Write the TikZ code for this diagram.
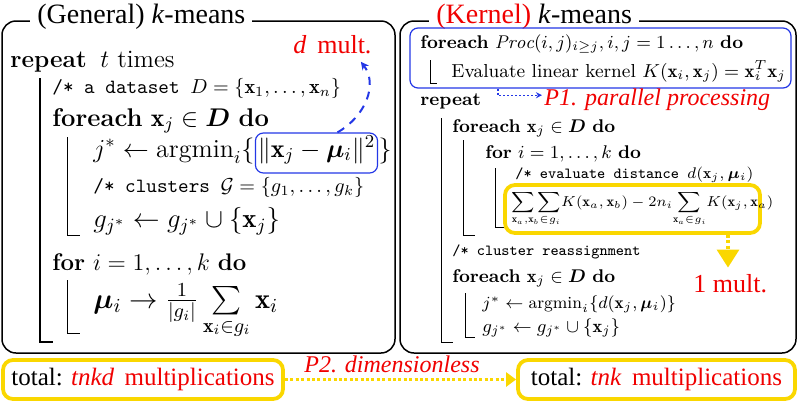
\RequirePackage{fix-cm}
\documentclass[tikz,border=0pt]{standalone}
\usepackage{amsmath,amssymb,bm}
\usepackage{fontspec}
\newfontfamily\tnr{Liberation Serif}
\usetikzlibrary{arrows.meta,calc}
\definecolor{bluec}{RGB}{35,55,230}
\definecolor{yelc}{RGB}{250,215,0}
\definecolor{redc}{RGB}{240,0,0}
\newcommand{\fsz}[1]{\fontsize{#1}{#1}\selectfont}
\tikzset{
  frame/.style={draw=black,line width=0.75pt,rounded corners=7pt},
  title/.style={anchor=base west,inner xsep=3.5pt,inner ysep=1pt,fill=white,font=\tnr\fsz{14}},
  algL/.style={anchor=base west,inner sep=0pt,font=\fsz{12}},
  algR/.style={anchor=base west,inner sep=0pt,font=\fsz{9.2}},
  cmtL/.style={anchor=base west,inner sep=0pt,font=\ttfamily\fsz{10.1}},
  cmtR/.style={anchor=base west,inner sep=0pt,font=\ttfamily\fsz{7.7}},
  lbl/.style={inner sep=0pt,text=redc,font=\tnr\fsz{13}},
  blk/.style={line width=0.5pt},
  blkthick/.style={line width=1.1pt},
  bbox/.style={draw=bluec,line width=0.6pt,rounded corners=4pt,inner sep=0pt},
  ybox/.style={draw=yelc,line width=1.9pt,rounded corners=5pt,inner sep=0pt},
  ydot/.style={draw=yelc,line width=1.6pt,dash pattern=on 1.5pt off 1.2pt,-{Triangle[length=5pt,width=7pt]}},
  ydotbig/.style={draw=yelc,line width=1.6pt,dash pattern=on 1.5pt off 1.2pt,-{Triangle[length=9pt,width=11pt]}},
  bdash/.style={draw=bluec,line width=1pt,dash pattern=on 4pt off 3.5pt,-{Stealth[length=4pt,width=4pt]}},
  bdot/.style={draw=bluec,line width=0.7pt,dash pattern=on 1pt off 1pt,-{Stealth[length=3pt,width=3pt]}},
}
\begin{document}
\begin{tikzpicture}[x=0.5pt,y=-0.5pt]
\useasboundingbox (0,0) rectangle (798,402);
% ---------- frames ----------
\draw[frame] (2,21) rectangle (395,353);
\draw[frame] (400,21) rectangle (796,353);
\node[title] (tl) at (30,23) {(General) \textit{k}-means};
\node[title] (tr) at (429,23) {\textcolor{redc}{(Kernel)} \textit{k}-means};
% ---------- left algorithm ----------
\node[algL,font=\fsz{12.2}] (l1) at (10,67) {\textbf{repeat}};
\node[algL,font=\fsz{12.5}] (l1b) at (100,67) {$t$ times};
\node[lbl,anchor=base west] (dmult) at (293,53) {\textit{d}\, mult.};
\node[cmtL] (l2) at (52,93) {/* a dataset $D=\{\mathbf{x}_1,\ldots,\mathbf{x}_n\}$};
\node[algL,font=\fsz{12.8}] (l3) at (52,126) {\textbf{foreach} $\mathbf{x}_j\in\bm{D}$ \textbf{do}};
\node[algL,font=\fsz{13}] (l4a) at (93,157) {$j^*\leftarrow\mathrm{argmin}_i\{$};
\node[bbox,anchor=base west,inner xsep=1.2pt,text height=12pt,text depth=8pt,font=\fsz{13}] (normbox) at (l4a.base east) {$\|\mathbf{x}_j-\bm{\mu}_i\|^2$};
\node[algL,font=\fsz{13}] (l4b) at (normbox.base east) {$\}$};
\node[cmtL] (l5) at (93,192) {/* clusters $\mathcal{G}=\{g_1,\ldots,g_k\}$};
\node[algL,font=\fsz{13.4}] (l6) at (93,227) {$g_{j^*}\leftarrow g_{j^*}\cup\{\mathbf{x}_j\}$};
\node[algL] (l7) at (52,270) {\textbf{for} $i=1,\ldots,k$ \textbf{do}};
\node[algL,font=\fsz{14.2}] (l8) at (93,308) {$\bm{\mu}_i\rightarrow\tfrac{1}{|g_i|}\sum\limits_{\mathbf{x}_i\in g_i}\mathbf{x}_i$};
\draw[blkthick] (40,78) -- (40,342) -- (53,342);
\draw[blk] (67,137) -- (67,235) -- (80,235);
\draw[blk] (67,280) -- (67,333) -- (80,333);
\draw[bdash] ($(normbox.north west)!0.67!(normbox.north east)$) .. controls (366,116) and (378,84) .. ($(dmult.south east)+(-11,8)$);
% ---------- right algorithm ----------
\node[bbox,minimum width=190.5pt,minimum height=30pt] (kbox) at (600.5,58) {};
\node[algR] (r1) at (420,48) {\textbf{foreach} $\mathit{Proc}(i,j)_{i\geq j},i,j=1\ldots,n$ \textbf{do}};
\draw[blk] (430,60) -- (430,83) -- (437,83);
\node[algR,font=\fsz{9.4}] (r2) at (451,77) {Evaluate linear kernel $K(\mathbf{x}_i,\mathbf{x}_j)=\mathbf{x}_i^T\mathbf{x}_j$};
\node[algR] (r3) at (420,105) {\textbf{repeat}};
\node[lbl,anchor=base west,font=\tnr\itshape\fsz{12}] (p1) at (544,105) {P1. parallel processing};
\draw[bdot] (kbox.south -| 498,0) |- ($(p1.west)+(-2,-4)$);
\draw[blk] (441,118) -- (441,342) -- (453,342);
\node[algR] (r4) at (452,132) {\textbf{foreach} $\mathbf{x}_j\in\bm{D}$ \textbf{do}};
\draw[blk] (463,140) -- (463,235) -- (475,235);
\node[algR] (r5) at (485,158) {\textbf{for} $i=1,\ldots,k$ \textbf{do}};
\draw[blk] (495,168) -- (495,227) -- (505,227);
\node[cmtR] (r6) at (515,178) {/* evaluate distance $d(\mathbf{x}_j,\bm{\mu}_i)$};
\node[ybox,minimum width=127.5pt,minimum height=24pt] (ybx) at (632.5,209) {};
\node[algR,font=\fsz{7.2}] (r7) at (511,206) {$\displaystyle\mathop{\sum\sum}\limits_{\mathbf{x}_a,\mathbf{x}_b\in g_i}\!K(\mathbf{x}_a,\mathbf{x}_b)-2n_i\!\sum\limits_{\mathbf{x}_a\in g_i}\!K(\mathbf{x}_j,\mathbf{x}_a)$};
\node[lbl,anchor=base west] (onemult) at (693,292) {1 mult.};
\draw[ydotbig] (ybx.south -| 728,0) -- ($(onemult.north -| 728,0)+(0,-6)$);
\node[cmtR] (r8) at (452,255) {/* cluster reassignment};
\node[algR] (r9) at (452,282) {\textbf{foreach} $\mathbf{x}_j\in\bm{D}$ \textbf{do}};
\draw[blk] (465,293) -- (465,337) -- (475,337);
\node[algR,font=\fsz{8.5}] (r10) at (482,308) {$j^*\leftarrow\mathrm{argmin}_i\{d(\mathbf{x}_j,\bm{\mu}_i)\}$};
\node[algR] (r11) at (482,332) {$g_{j^*}\leftarrow g_{j^*}\cup\{\mathbf{x}_j\}$};
% ---------- bottom ----------
\node[ybox,minimum width=140pt,minimum height=19.5pt,font=\tnr\fsz{12.5}] (ltot) at (143,379.5) {total: \textcolor{redc}{\textit{tnkd}\, multiplications}};
\node[ybox,minimum width=138.5pt,minimum height=19.5pt,font=\tnr\fsz{12.5}] (rtot) at (656.5,379.5) {total: \textcolor{redc}{\textit{tnk}\, multiplications}};
\draw[ydot] (ltot.east) -- (rtot.west);
\node[lbl,anchor=base,font=\tnr\itshape\fsz{12}] (p2) at (392,372) {P2. dimensionless};
\end{tikzpicture}
\end{document}
